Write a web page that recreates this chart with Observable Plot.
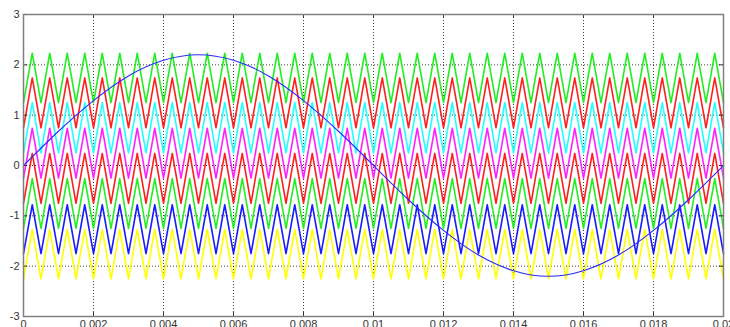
<!DOCTYPE html>
<html>
<head>
<meta charset="utf-8">
<script src="https://cdn.jsdelivr.net/npm/d3@7"></script>
<script src="https://cdn.jsdelivr.net/npm/@observablehq/plot@0.6"></script>
<style>
  html, body { margin: 0; padding: 0; background: #fff; overflow: hidden; }
  #chart svg { display: block; }
</style>
</head>
<body>
<div id="chart"></div>
<script>
// ---- Data ----
const xTicks = [0, 0.002, 0.004, 0.006, 0.008, 0.01, 0.012, 0.014, 0.016, 0.018, 0.02];
const xTickLabels = ["0", "0.002", "0.004", "0.006", "0.008", "0.01", "0.012", "0.014", "0.016", "0.018", "0.02"];
const yTicks = [-3, -2, -1, 0, 1, 2, 3];
const yTickLabels = ["-3", "-2", "-1", "0", "1", "2", "3"];
const xDomain = [0, 0.02];
const yDomain = [-3, 3];

// Carrier triangle vertex times (trough, peak, trough, ...)
const vertexTimes = [0,0.00025,0.0005,0.00075,0.001,0.00125,0.0015,0.00175,0.002,0.00225,0.0025,0.00275,0.003,0.00325,0.0035,0.00375,0.004,0.00425,0.0045,0.00475,0.005,0.00525,0.0055,0.00575,0.006,0.00625,0.0065,0.00675,0.007,0.00725,0.0075,0.00775,0.008,0.00825,0.0085,0.00875,0.009,0.00925,0.0095,0.00975,0.01,0.01025,0.0105,0.01075,0.011,0.01125,0.0115,0.01175,0.012,0.01225,0.0125,0.01275,0.013,0.01325,0.0135,0.01375,0.014,0.01425,0.0145,0.01475,0.015,0.01525,0.0155,0.01575,0.016,0.01625,0.0165,0.01675,0.017,0.01725,0.0175,0.01775,0.018,0.01825,0.0185,0.01875,0.019,0.01925,0.0195,0.01975,0.02];

// Eight level-shifted carriers (bottom to top)
const carrierLows  = [-2.25, -1.75, -1.25, -0.75, -0.25, 0.25, 0.75, 1.25];
const carrierHighs = [-1.27, -0.78, -0.26, 0.24, 0.74, 1.25, 1.74, 2.23];
const carrierColors = ["#ffff00", "#1a1aff", "#22ee22", "#ff1f1f", "#ff22ff", "#22ffff", "#ff1f1f", "#22ee22"];

// Modulating sine wave samples
const sineTimes = [0,0.001,0.002,0.003,0.004,0.005,0.006,0.007,0.008,0.009,0.01,0.011,0.012,0.013,0.014,0.015,0.016,0.017,0.018,0.019,0.02];
const sineValues = [0,0.68,1.29,1.78,2.09,2.2,2.09,1.78,1.29,0.68,0,-0.68,-1.29,-1.78,-2.09,-2.2,-2.09,-1.78,-1.29,-0.68,0];

// ---- Build tables ----
const carrierRows = carrierLows.map((lo, i) =>
  vertexTimes.map((t, j) => ({t, v: j % 2 === 0 ? lo : carrierHighs[i]}))
);
const sineRows = sineTimes.map((t, i) => ({t, v: sineValues[i]}));

const carrierMarks = carrierRows.map((rows, i) =>
  Plot.line(rows, {x: "t", y: "v", stroke: carrierColors[i], strokeWidth: 1.6})
);

const chart = Plot.plot({
  width: 730,
  height: 327,
  marginLeft: 23,
  marginRight: 7,
  marginTop: 14,
  marginBottom: 11,
  style: {background: "#fff", fontFamily: "'Liberation Sans', Arial, sans-serif", fontSize: "11px", color: "#333"},
  x: {domain: xDomain, label: null},
  y: {domain: yDomain, label: null},
  marks: [
    Plot.gridX(xTicks, {stroke: "#000", strokeOpacity: 0.75, strokeDasharray: "1,2"}),
    Plot.gridY(yTicks, {stroke: "#000", strokeOpacity: 0.75, strokeDasharray: "1,2"}),
    ...carrierMarks,
    Plot.line(sineRows, {x: "t", y: "v", stroke: "#2a2aff", strokeWidth: 1.1, curve: "natural"}),
    // inward ticks
    Plot.ruleX(xTicks, {x: d => d, y1: yDomain[0], y2: yDomain[0] + 0.08, stroke: "#333"}),
    Plot.ruleX(xTicks, {x: d => d, y1: yDomain[1], y2: yDomain[1] - 0.08, stroke: "#333"}),
    Plot.ruleY(yTicks, {y: d => d, x1: xDomain[0], x2: xDomain[0] + 0.00012, stroke: "#333"}),
    Plot.ruleY(yTicks, {y: d => d, x1: xDomain[1], x2: xDomain[1] - 0.00012, stroke: "#333"}),
    Plot.frame({stroke: "#808080", strokeWidth: 1.5}),
    Plot.axisX(xTicks, {label: null, tickSize: 0, tickPadding: 4, tickFormat: d => xTickLabels[xTicks.indexOf(d)], fill: "#333"}),
    Plot.axisY(yTicks, {label: null, tickSize: 0, tickPadding: 4, tickFormat: d => yTickLabels[yTicks.indexOf(d)], fill: "#333"})
  ]
});
document.getElementById("chart").append(chart);
</script>
</body>
</html>
